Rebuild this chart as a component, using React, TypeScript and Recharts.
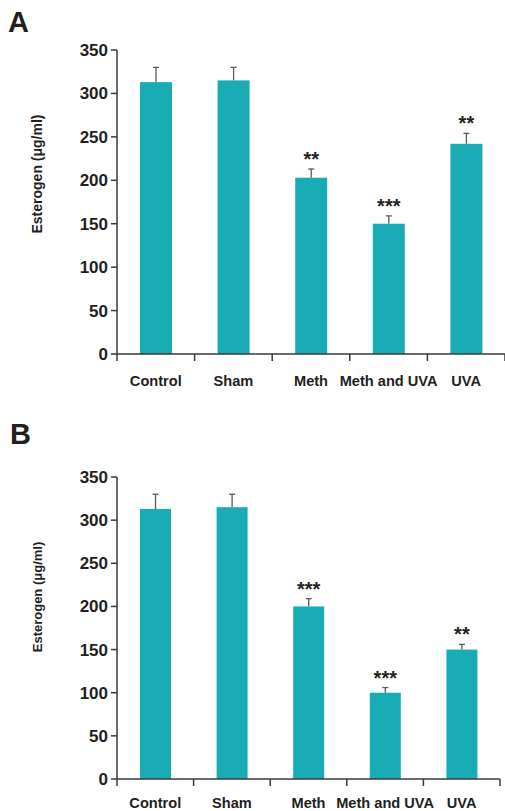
import React from 'react';
import { BarChart, Bar, XAxis, YAxis, LabelList } from 'recharts';

const categories = ['Control', 'Sham', 'Meth', 'Meth and UVA', 'UVA'];

// panel A
const estrogenA = [313, 315, 203, 150, 242];
const errorA = [17, 15, 10, 9, 12];
const starsA = ['', '', '**', '***', '**'];

// panel B
const estrogenB = [313, 315, 200, 100, 150];
const errorB = [17, 15, 9, 6, 6];
const starsB = ['', '', '***', '***', '**'];

const yTicks = [0, 50, 100, 150, 200, 250, 300, 350];

const FONT = '"Liberation Sans", Arial, sans-serif';
const TEAL = '#1aacb4';
const AXIS = '#3a3a3a';
const INK = '#231f20';

const buildRows = (values: number[], errors: number[], stars: string[]) =>
  categories.map((name, i) => ({
    name,
    value: values[i],
    err: errors[i],
    stars: stars[i],
  }));

const dataA = buildRows(estrogenA, errorA, starsA);
const dataB = buildRows(estrogenB, errorB, starsB);

// x ticks sit between the categories, label under the middle
const makeCategoryTick = (labelDy: number) => (props: any) => {
  const { x, y, payload, index, visibleTicksCount } = props;
  const half = payload && payload.offset ? payload.offset : 38;
  return (
    <g>
      <line x1={x - half} x2={x - half} y1={y} y2={y + 7} stroke={AXIS} strokeWidth={1.5} />
      {index === visibleTicksCount - 1 && (
        <line x1={x + half} x2={x + half} y1={y} y2={y + 7} stroke={AXIS} strokeWidth={1.5} />
      )}
      <text
        x={x}
        y={y + labelDy}
        textAnchor="middle"
        dominantBaseline="central"
        fontFamily={FONT}
        fontWeight="bold"
        fontSize={14.6}
        fill={INK}
      >
        {payload.value}
      </text>
    </g>
  );
};

const makeYLabel = (fontSize: number, shift: number) => (props: any) => {
  const vb = props.viewBox || { x: 0, y: 0, width: 117, height: 300 };
  const cx = vb.x + 37;
  const cy = vb.y + vb.height / 2 - shift;
  return (
    <text
      x={cx}
      y={cy}
      transform={`rotate(-90, ${cx}, ${cy})`}
      textAnchor="middle"
      dominantBaseline="central"
      fontFamily={FONT}
      fontWeight="bold"
      fontSize={fontSize}
      fill={INK}
    >
      Esterogen (μg/ml)
    </text>
  );
};

// bar with an upward-only error whisker, scaled from the bar's own height
const BarWithError = (props: any) => {
  const { x, y, width, height, payload } = props;
  const errPx = payload && payload.value ? (payload.err * height) / payload.value : 0;
  const cx = x + width / 2;
  return (
    <g>
      <line x1={cx} x2={cx} y1={y} y2={y - errPx} stroke="#5a5a5a" strokeWidth={1.3} />
      <line x1={cx - 3} x2={cx + 3} y1={y - errPx} y2={y - errPx} stroke="#5a5a5a" strokeWidth={1.3} />
      <rect x={x} y={y} width={width} height={height} fill={TEAL} />
    </g>
  );
};

const makeStars = (rows: typeof dataA) => (props: any) => {
  const { x, y, width, height, index, value } = props;
  const row = rows[index];
  if (!value || !row) return null;
  const errPx = (row.err * height) / row.value;
  return (
    <text
      x={x + width / 2}
      y={y - errPx - 3}
      textAnchor="middle"
      fontFamily={FONT}
      fontWeight="bold"
      fontSize={20}
      fill={INK}
    >
      {value}
    </text>
  );
};

interface PanelProps {
  data: typeof dataA;
  height: number;
  top: number;
  right: number;
  xHeight: number;
  labelDy: number;
  barSize: number;
  labelSize: number;
  labelShift: number;
}

const Panel = ({ data, height, top, right, xHeight, labelDy, barSize, labelSize, labelShift }: PanelProps) => (
  <BarChart
    width={505}
    height={height}
    data={data}
    margin={{ top, right, bottom: 0, left: 0 }}
  >
    <XAxis
      dataKey="name"
      height={xHeight}
      interval={0}
      tickSize={0}
      tickMargin={0}
      tickLine={false}
      axisLine={{ stroke: AXIS, strokeWidth: 1.5 }}
      tick={makeCategoryTick(labelDy)}
    />
    <YAxis
      width={117}
      domain={[0, 350]}
      ticks={yTicks}
      interval={0}
      tickSize={6}
      tickMargin={3}
      axisLine={{ stroke: AXIS, strokeWidth: 1.5 }}
      tickLine={{ stroke: AXIS, strokeWidth: 1.5 }}
      tick={{ fontFamily: FONT, fontWeight: 'bold', fontSize: 17, fill: INK }}
      label={makeYLabel(labelSize, labelShift)}
    />
    <Bar dataKey="value" fill={TEAL} barSize={barSize} shape={BarWithError} isAnimationActive={false}>
      <LabelList dataKey="stars" content={makeStars(data)} />
    </Bar>
  </BarChart>
);

export default function App() {
  return (
    <div style={{ position: 'absolute', left: 0, top: 0, width: 505, height: 811, background: '#fff' }}>
      <div style={{ position: 'absolute', left: 0, top: 0 }}>
        <Panel data={dataA} height={400} top={50} right={0} xHeight={46} labelDy={27} barSize={32} labelSize={14} labelShift={28} />
      </div>
      <div style={{ position: 'absolute', left: 0, top: 420 }}>
        <Panel data={dataB} height={391} top={57} right={5} xHeight={32} labelDy={23.5} barSize={31} labelSize={13} labelShift={31} />
      </div>
      <svg width={505} height={811} style={{ position: 'absolute', left: 0, top: 0, pointerEvents: 'none' }}>
        <text x={8} y={32} fontFamily={FONT} fontWeight="bold" fontSize={29} fill={INK}>A</text>
        <text x={10} y={444} fontFamily={FONT} fontWeight="bold" fontSize={29} fill={INK}>B</text>
      </svg>
    </div>
  );
}
